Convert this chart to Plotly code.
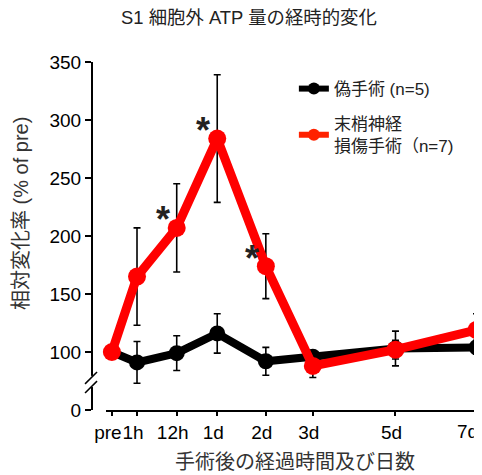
import plotly.graph_objects as go

# ---- data ----
time_labels = ["pre", "1h", "12h", "1d", "2d", "3d", "5d", "7d"]
time_pos = [0, 0.62, 1.6, 2.6, 3.8, 4.96, 7.0, 9.0]   # axis positions of the time points

sham_mean = [100, 91, 99, 116, 92, 96, 103, 104]
sham_err = [0, 18, 15, 17, 12, 5, 15, 6]

injury_mean = [100, 165, 207, 284, 174, 88, 102, 119]
injury_err = [0, 42, 38, 55, 28, 10, 8, 14]
injury_sig = [False, False, True, True, True, False, False, False]

y_tick_vals = [50, 100, 150, 200, 250, 300, 350]       # 50 stands in for the broken-axis zero
y_tick_text = ["0", "100", "150", "200", "250", "300", "350"]

title_text = "S1 細胞外 ATP 量の経時的変化"
x_title = "手術後の経過時間及び日数"
y_title = "相対変化率 (% of pre)"
sham_name = "偽手術 (n=5)"
injury_name = "末梢神経<br>損傷手術（n=7)"

FONT = "Liberation Sans, Arial, Noto Sans CJK JP"
RED = "#ff0000"
LEG_RED = "#ff2200"

fig = go.Figure()

fig.add_trace(go.Scatter(
    x=time_pos, y=sham_mean, mode="lines+markers", showlegend=False,
    line=dict(color="black", width=8),
    marker=dict(color="black", size=16),
    error_y=dict(type="data", array=sham_err, color="black", thickness=1.6, width=3.5),
    cliponaxis=False,
))
fig.add_trace(go.Scatter(
    x=time_pos, y=injury_mean, mode="lines+markers", showlegend=False,
    line=dict(color=RED, width=9),
    marker=dict(color=RED, size=18),
    error_y=dict(type="data", array=injury_err, color="black", thickness=1.6, width=3.5),
    cliponaxis=False,
))

# legend-only traces
fig.add_trace(go.Scatter(
    x=[None], y=[None], mode="lines+markers", name=sham_name, legendgroup="a",
    line=dict(color="black", width=6), marker=dict(color="black", size=12),
))
fig.add_trace(go.Scatter(
    x=[None], y=[None], mode="lines+markers", name=injury_name, legendgroup="b",
    line=dict(color=LEG_RED, width=6), marker=dict(color=LEG_RED, size=12),
))

# significance asterisks
for xp, yv, s in zip(time_pos, injury_mean, injury_sig):
    if s:
        fig.add_annotation(
            x=xp, y=yv, text="<b>*</b>", showarrow=False,
            xshift=-14, yshift=8,
            font=dict(family=FONT, size=36, color="#222222"),
        )

# last tick label is right-aligned to its tick so it stays inside the page
fig.add_annotation(x=time_pos[-1], xref="x", yref="paper", y=-0.063,
                   text=time_labels[-1], showarrow=False,
                   xanchor="right", yanchor="middle", xshift=3,
                   font=dict(family=FONT, size=19, color="black"))

# axis titles
fig.add_annotation(xref="paper", yref="paper", x=-0.184, y=0.566,
                   text=y_title, textangle=-90, showarrow=False,
                   xanchor="center", yanchor="middle",
                   font=dict(family=FONT, size=20, color="#333333"))
fig.add_annotation(xref="paper", yref="paper", x=0.526, y=-0.149,
                   text=x_title, showarrow=False,
                   xanchor="center", yanchor="middle",
                   font=dict(family=FONT, size=20, color="#333333"))

# axis break: hide a gap on the y-axis line and draw two slashes
fig.add_shape(type="rect", xref="paper", yref="paper",
              x0=-0.02, x1=0.02, y0=0.066, y1=0.098,
              fillcolor="white", line=dict(width=0), layer="above")
for yc in (0.092, 0.066):
    fig.add_shape(type="line", xref="paper", yref="paper",
                  x0=-0.018, x1=0.013, y0=yc - 0.017, y1=yc + 0.017,
                  line=dict(color="black", width=1.5), layer="above")

fig.update_layout(
    width=474, height=467,
    margin=dict(l=84, r=4, t=54, b=65, autoexpand=False),
    paper_bgcolor="white", plot_bgcolor="white",
    font=dict(family=FONT, size=19, color="black"),
    title=dict(text=title_text, x=0.5084, xanchor="center",
               y=0.9786, yanchor="middle",
               font=dict(family=FONT, size=18.4, color="#222222")),
    legend=dict(x=0.523, y=0.974, xanchor="left", yanchor="top",
                font=dict(family=FONT, size=17, color="#222222"),
                bgcolor="rgba(0,0,0,0)", itemwidth=30,
                traceorder="grouped", tracegroupgap=10,
                valign="middle"),
    xaxis=dict(
        domain=[0.036, 1], range=[-0.148, 9.037], automargin=False,
        tickmode="array", tickvals=time_pos,
        ticktext=time_labels[:-1] + [""],
        tickangle=0, ticklabelshift=-4,
        showline=True, linecolor="black", linewidth=2,
        ticks="outside", ticklen=4, tickwidth=1.5, tickcolor="black",
        showgrid=False, zeroline=False,
        tickfont=dict(family=FONT, size=19, color="black"),
    ),
    yaxis=dict(
        anchor="free", position=0, range=[50, 350], automargin=False,
        tickmode="array", tickvals=y_tick_vals, ticktext=y_tick_text,
        showline=True, linecolor="black", linewidth=2,
        ticks="outside", ticklen=6, tickwidth=1.5, tickcolor="black",
        showgrid=False, zeroline=False,
        tickfont=dict(family=FONT, size=19, color="black"),
    ),
)

fig.write_html("out.html")
